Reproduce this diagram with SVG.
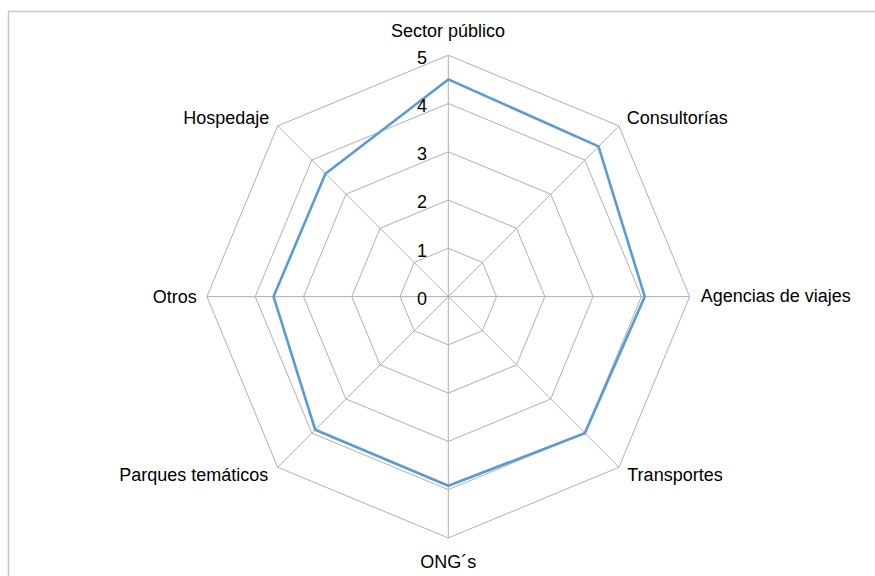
<svg xmlns="http://www.w3.org/2000/svg" width="875" height="576" viewBox="0 0 875 576">
  <style>
    .grid { fill: none; stroke: #b0b0b0; stroke-width: 1; }
    .spoke { stroke: #b0b0b0; stroke-width: 1; }
    .series { fill: none; stroke: #5b9bd5; stroke-width: 2.6; stroke-linejoin: miter; }
    .lbl { font-family: "Liberation Sans", Arial, sans-serif; font-size: 18px; fill: #000; }
    .tick { font-family: "Liberation Sans", Arial, sans-serif; font-size: 18px; fill: #000; text-anchor: end; }
  </style>
  <rect x="0" y="0" width="875" height="576" fill="#ffffff"/>
  <rect id="frame" x="8.5" y="11.5" width="880" height="580" fill="none" stroke="#c8c8c8" stroke-width="1.5"/>

  <g id="grid">
    <polygon class="grid" points="448.3,248.33 482.43,262.47 496.57,296.6 482.43,330.73 448.3,344.87 414.17,330.73 400.03,296.6 414.17,262.47"/>
    <polygon class="grid" points="448.3,200.06 516.56,228.34 544.84,296.6 516.56,364.86 448.3,393.14 380.04,364.86 351.76,296.6 380.04,228.34"/>
    <polygon class="grid" points="448.3,151.79 550.7,194.2 593.11,296.6 550.7,399 448.3,441.41 345.9,399 303.49,296.6 345.9,194.2"/>
    <polygon class="grid" points="448.3,103.52 584.83,160.07 641.38,296.6 584.83,433.13 448.3,489.68 311.77,433.13 255.22,296.6 311.77,160.07"/>
    <polygon class="grid" points="448.3,55.25 618.96,125.94 689.65,296.6 618.96,467.26 448.3,537.95 277.64,467.26 206.95,296.6 277.64,125.94"/>
  </g>

  <g id="connectors">
    <line class="spoke" x1="448.3" y1="296.6" x2="448.3" y2="55.25"/>
    <line class="spoke" x1="448.3" y1="296.6" x2="618.96" y2="125.94"/>
    <line class="spoke" x1="448.3" y1="296.6" x2="689.65" y2="296.6"/>
    <line class="spoke" x1="448.3" y1="296.6" x2="618.96" y2="467.26"/>
    <line class="spoke" x1="448.3" y1="296.6" x2="448.3" y2="537.95"/>
    <line class="spoke" x1="448.3" y1="296.6" x2="277.64" y2="467.26"/>
    <line class="spoke" x1="448.3" y1="296.6" x2="206.95" y2="296.6"/>
    <line class="spoke" x1="448.3" y1="296.6" x2="277.64" y2="125.94"/>
  </g>

  <g id="series">
    <polygon class="series" points="448.3,79.4 598.49,146.41 644.76,296.6 584.83,433.13 448.3,485.82 315.18,429.72 273.56,296.6 325.42,173.72"/>
  </g>

  <g id="ticks">
    <text class="tick" x="427" y="304.8">0</text>
    <text class="tick" x="427" y="256.6">1</text>
    <text class="tick" x="427" y="208.3">2</text>
    <text class="tick" x="427" y="160">3</text>
    <text class="tick" x="427" y="111.8">4</text>
    <text class="tick" x="427" y="63.5">5</text>
  </g>

  <g id="node-sector-publico"><text class="lbl" x="448" y="37.3" text-anchor="middle">Sector público</text></g>
  <g id="node-consultorias"><text class="lbl" x="626.7" y="124.3">Consultorías</text></g>
  <g id="node-agencias"><text class="lbl" x="700.7" y="302.3">Agencias de viajes</text></g>
  <g id="node-transportes"><text class="lbl" x="627.3" y="481">Transportes</text></g>
  <g id="node-ongs"><text class="lbl" x="448.3" y="568.3" text-anchor="middle">ONG´s</text></g>
  <g id="node-parques"><text class="lbl" x="268.3" y="481" text-anchor="end">Parques temáticos</text></g>
  <g id="node-otros"><text class="lbl" x="196.7" y="303.3" text-anchor="end">Otros</text></g>
  <g id="node-hospedaje"><text class="lbl" x="269.3" y="124.3" text-anchor="end">Hospedaje</text></g>
</svg>
